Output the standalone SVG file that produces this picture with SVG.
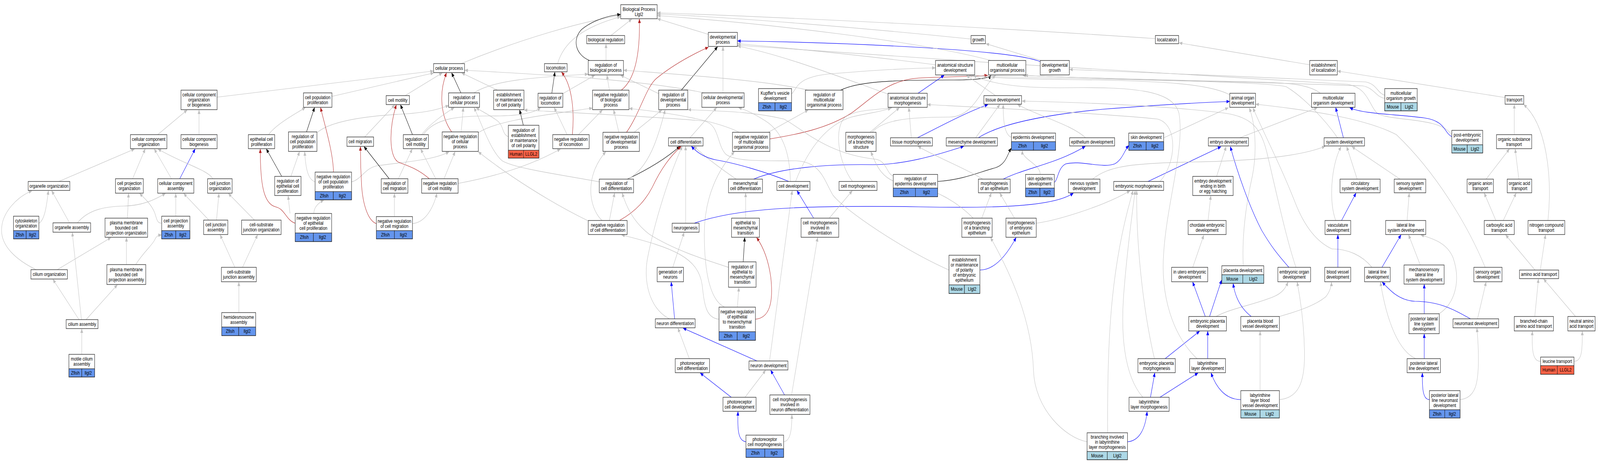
<svg xmlns="http://www.w3.org/2000/svg" width="5225" height="1189" viewBox="0 0 5225 1189" preserveAspectRatio="none">
<style>
svg{width:100vw;height:100vh;display:block}
.n rect{fill:#fff;stroke:#222;stroke-width:1.3}
.n rect.z{fill:#6495ed}
.n rect.m{fill:#add8e6}
.n rect.h{fill:#ff6347}
text{font-family:"Liberation Sans",Arial,sans-serif;font-size:13px;text-anchor:middle;fill:#000}
#edges path{fill:none;stroke-width:1.15}
#edges .g{stroke:#c0c0c0;marker-end:url(#ag)}
#edges .k{stroke:#000;marker-end:url(#ak)}
#edges .b{stroke:#0000ff;marker-end:url(#ab)}
#edges .r{stroke:#b22222;marker-end:url(#ar)}
</style>
<defs>
<marker id="ag" markerWidth="11" markerHeight="9" refX="10" refY="4.5" orient="auto" markerUnits="userSpaceOnUse"><path d="M0,0L11,4.5L0,9z" fill="#c0c0c0"/></marker>
<marker id="ak" markerWidth="11" markerHeight="9" refX="10" refY="4.5" orient="auto" markerUnits="userSpaceOnUse"><path d="M0,0L11,4.5L0,9z" fill="#000"/></marker>
<marker id="ab" markerWidth="11" markerHeight="9" refX="10" refY="4.5" orient="auto" markerUnits="userSpaceOnUse"><path d="M0,0L11,4.5L0,9z" fill="#0000ff"/></marker>
<marker id="ar" markerWidth="11" markerHeight="9" refX="10" refY="4.5" orient="auto" markerUnits="userSpaceOnUse"><path d="M0,0L11,4.5L0,9z" fill="#b22222"/></marker>
</defs>
<rect x="0" y="0" width="5225" height="1189" fill="#fff"/>
<g id="edges">
<path class="g" d="M709,249 L1415,182"/>
<path class="g" d="M515,345 L611,282"/>
<path class="g" d="M650,345 L650,282"/>
<path class="g" d="M192,465 L439,382"/>
<path class="g" d="M433,458 L474,382"/>
<path class="g" d="M560,458 L504,382"/>
<path class="b" d="M587,458 L637,382"/>
<path class="g" d="M695,458 C680,436 600,420 516,382"/>
<path class="g" d="M227,571 L169,489"/>
<path class="g" d="M127,572 C145,565 152,530 158,489"/>
<path class="g" d="M118,691 C50,665 5,630 5,590 C5,545 55,505 104,489"/>
<path class="g" d="M253,571 C290,535 350,529 405,528 C465,527 505,512 540,496"/>
<path class="g" d="M416,559 L420,496"/>
<path class="g" d="M528,572 C512,572 512,560 505,545 C495,525 475,510 456,496"/>
<path class="g" d="M574,554 L574,496"/>
<path class="g" d="M682,564 L600,496"/>
<path class="g" d="M707,564 L715,496"/>
<path class="g" d="M831,564 L746,496"/>
<path class="g" d="M187,691 L362,609"/>
<path class="g" d="M413,678 L413,609"/>
<path class="g" d="M443,678 C470,645 495,630 505,615 C510,606 515,603 527,602"/>
<path class="g" d="M767,685 L719,602"/>
<path class="g" d="M792,685 L841,602"/>
<path class="g" d="M258,819 L173,716"/>
<path class="g" d="M266,819 L236,596"/>
<path class="g" d="M281,819 L383,730"/>
<path class="g" d="M780,801 L780,723"/>
<path class="g" d="M267,908 L267,843"/>
<path class="g" d="M877,345 C900,320 960,293 997,276"/>
<path class="r" d="M964,572 C935,565 930,535 900,530 C860,522 850,470 850,382"/>
<path class="k" d="M920,452 L870,382"/>
<path class="g" d="M1506,163 C1700,100 1900,55 2026,40"/>
<path class="g" d="M1084,247 L1416,187"/>
<path class="g" d="M1323,245 L1444,187"/>
<path class="r" d="M1475,338 C1440,300 1432,240 1458,187"/>
<path class="k" d="M1505,238 L1475,187"/>
<path class="g" d="M1625,231 L1508,187"/>
<path class="g" d="M2300,238 C2100,205 1800,192 1518,180"/>
<path class="g" d="M1548,238 C1610,205 1750,198 1920,190"/>
<path class="k" d="M1001,338 L1027,276"/>
<path class="g" d="M1037,339 C1080,310 1200,297 1300,293 C1380,290 1430,282 1465,270"/>
<path class="r" d="M1089,441 C1088,390 1060,320 1047,276"/>
<path class="g" d="M1029,466 C1005,460 998,430 995,389"/>
<path class="g" d="M1148,466 C1180,460 1190,432 1230,425 C1320,415 1420,410 1466,389"/>
<path class="g" d="M950,452 L978,389"/>
<path class="g" d="M947,547 L941,502"/>
<path class="g" d="M1025,547 C1025,530 1040,520 1057,513"/>
<path class="g" d="M1191,351 L1289,269"/>
<path class="k" d="M1347,345 L1308,269"/>
<path class="r" d="M1402,458 C1360,430 1330,425 1300,415 C1270,400 1270,330 1294,269"/>
<path class="g" d="M1377,345 C1400,320 1450,292 1483,276"/>
<path class="g" d="M1382,345 C1420,302 1500,297 1600,297 C1680,298 1740,292 1765,276"/>
<path class="g" d="M1423,458 L1374,382"/>
<path class="g" d="M1450,458 L1486,389"/>
<path class="g" d="M1496,470 C1600,455 1720,430 1830,382"/>
<path class="g" d="M1506,338 L1513,276"/>
<path class="g" d="M1562,340 C1620,310 1750,298 1934,277"/>
<path class="k" d="M1271,458 L1189,376"/>
<path class="r" d="M1229,573 C1200,565 1185,520 1181,478 C1178,440 1177,410 1177,376"/>
<path class="g" d="M1301,458 L1346,382"/>
<path class="g" d="M1288,555 L1288,496"/>
<path class="g" d="M1347,573 C1390,570 1415,532 1427,496"/>
<path class="k" d="M1709,321 L1697,282"/>
<path class="g" d="M1660,350 C1640,345 1645,322 1625,310 C1600,295 1572,285 1555,276"/>
<path class="g" d="M1921,566 C1800,520 1660,450 1562,389"/>
<path class="g" d="M1957,466 C1850,450 1680,432 1640,412 C1600,385 1570,310 1548,276"/>
<path class="g" d="M1995,91 L2063,49"/>
<path class="g" d="M1821,163 C1840,110 1900,70 2026,43"/>
<path class="k" d="M1925,155 C1878,140 1868,100 1900,75 C1940,50 1990,40 2026,37"/>
<path class="r" d="M2029,231 C2080,200 2090,120 2088,49"/>
<path class="g" d="M1979,155 L1979,113"/>
<path class="g" d="M2313,88 L2147,48"/>
<path class="k" d="M2225,231 L2343,120"/>
<path class="r" d="M2046,339 C2090,290 2110,222 2145,200 C2200,165 2260,140 2313,121"/>
<path class="g" d="M2361,238 L2361,120"/>
<path class="b" d="M3397,158 C3300,125 2700,108 2409,105"/>
<path class="k" d="M1802,239 L1812,185"/>
<path class="r" d="M1869,345 C1876,290 1870,220 1834,185"/>
<path class="g" d="M1852,345 L1810,276"/>
<path class="g" d="M1889,345 L1967,282"/>
<path class="g" d="M1838,240 L1942,193"/>
<path class="g" d="M1990,231 L1982,193"/>
<path class="g" d="M2151,240 L2027,193"/>
<path class="g" d="M2021,339 L2004,282"/>
<path class="g" d="M2071,339 L2161,282"/>
<path class="g" d="M2414,339 C2340,310 2200,290 2055,278"/>
<path class="g" d="M2639,231 C2500,205 2200,190 2037,180"/>
<path class="g" d="M2253,353 L2340,276"/>
<path class="k" d="M2049,459 C2100,440 2170,410 2220,375"/>
<path class="g" d="M2051,459 C2120,430 2150,350 2172,282"/>
<path class="r" d="M2023,565 C2080,540 2110,510 2130,480 C2160,430 2190,400 2224,375"/>
<path class="g" d="M1990,565 L2007,495"/>
<path class="g" d="M1966,565 C1920,530 1910,450 1978,389"/>
<path class="g" d="M2239,572 L2239,375"/>
<path class="g" d="M2404,459 C2350,430 2300,400 2266,375"/>
<path class="b" d="M2576,465 C2500,440 2400,418 2340,410 C2300,404 2275,390 2258,375"/>
<path class="g" d="M2435,559 L2435,495"/>
<path class="g" d="M2197,685 L2234,596"/>
<path class="k" d="M2427,671 L2432,609"/>
<path class="r" d="M2467,818 C2510,815 2527,780 2517,710 C2508,660 2490,630 2471,609"/>
<path class="g" d="M2408,787 L2413,737"/>
<path class="g" d="M2348,818 C2305,815 2300,780 2293,730 C2280,660 2200,635 2030,602"/>
<path class="g" d="M2366,787 C2320,770 2300,700 2300,600 C2300,500 2350,430 2398,389"/>
<path class="g" d="M2379,685 C2300,665 2200,640 2120,600 C2070,570 2045,530 2032,495"/>
<path class="b" d="M2203,817 L2192,723"/>
<path class="g" d="M2186,817 C2120,790 2100,720 2115,660 C2140,560 2190,440 2228,375"/>
<path class="g" d="M2251,919 L2214,841"/>
<path class="b" d="M2472,925 L2231,841"/>
<path class="g" d="M2513,925 L2587,489"/>
<path class="b" d="M2388,1018 L2287,956"/>
<path class="g" d="M2433,1018 L2500,949"/>
<path class="b" d="M2562,1012 L2517,949"/>
<path class="g" d="M2585,1012 L2670,609"/>
<path class="b" d="M2436,1132 C2410,1130 2408,1100 2410,1055"/>
<path class="g" d="M2559,1132 C2582,1130 2586,1100 2586,1063"/>
<path class="g" d="M2586,240 C2605,225 2600,200 2700,190 C2850,180 2950,175 3054,174"/>
<path class="g" d="M2581,465 C2580,400 2560,340 2500,310 C2460,290 2430,280 2412,276"/>
<path class="b" d="M2461,459 C2550,430 2700,420 2850,422 C2950,422 3050,400 3147,375"/>
<path class="b" d="M2267,572 C2400,535 2600,525 3000,530 C3300,535 3450,525 3505,495"/>
<path class="g" d="M3171,100 C2800,70 2400,45 2147,36"/>
<path class="g" d="M3773,99 C3200,68 2500,42 2147,33"/>
<path class="g" d="M3236,155 C3000,105 2500,60 2147,40"/>
<path class="g" d="M3400,155 L3220,112"/>
<path class="g" d="M3055,166 C2800,140 2600,125 2409,112"/>
<path class="g" d="M2900,241 C2700,185 2550,140 2409,118"/>
<path class="k" d="M2745,231 C2800,210 2900,205 3100,205 C3200,205 3230,200 3236,193"/>
<path class="r" d="M2514,356 C2600,345 2700,330 2780,290 C2850,250 2900,205 3000,200 C3100,196 3190,196 3225,193"/>
<path class="g" d="M2509,339 L2639,282"/>
<path class="b" d="M2998,239 L3083,193"/>
<path class="g" d="M3251,245 L3156,193"/>
<path class="g" d="M2841,339 L2937,276"/>
<path class="g" d="M2848,339 C2880,310 2950,300 3100,300 C3180,300 3200,230 3251,193"/>
<path class="g" d="M2976,353 L2968,276"/>
<path class="b" d="M2996,353 C3080,320 3150,290 3226,268"/>
<path class="g" d="M3186,353 L3265,268"/>
<path class="b" d="M3195,353 C3260,320 3400,295 3600,280 C3800,268 3950,262 4015,260"/>
<path class="g" d="M3303,352 C3280,345 3276,310 3276,268"/>
<path class="g" d="M3545,353 C3500,320 3400,300 3323,268"/>
<path class="g" d="M3397,447 C3397,420 3340,410 3338,386"/>
<path class="k" d="M3062,465 C3150,460 3200,440 3250,430 C3285,422 3290,395 3302,380"/>
<path class="g" d="M2917,451 C2895,445 2895,412 2860,408 C2700,395 2620,330 2560,305 C2450,285 2350,285 2247,281"/>
<path class="g" d="M2784,465 C2740,420 2720,330 2760,300 C2800,280 2850,283 2913,276"/>
<path class="g" d="M2598,465 C2640,380 2700,320 2780,300 C2830,290 2870,288 2910,277"/>
<path class="g" d="M3209,459 C3150,430 3050,400 2998,375"/>
<path class="b" d="M3276,459 C3350,430 3450,420 3544,375"/>
<path class="g" d="M3178,559 C3130,520 3050,480 2950,470 C2880,465 2860,420 2844,389"/>
<path class="g" d="M3206,559 L3237,495"/>
<path class="g" d="M3313,559 L3265,495"/>
<path class="g" d="M3384,572 C3450,565 3600,530 3690,489"/>
<path class="b" d="M3200,692 C3250,692 3290,650 3318,609"/>
<path class="g" d="M3099,692 C2950,640 2760,540 2720,500 C2690,460 2680,415 2600,412 C2500,412 2400,415 2370,395 C2340,370 2350,320 2300,310 C2150,300 1900,290 1712,282"/>
<path class="b" d="M3444,467 C3455,460 3455,430 3480,420 C3530,410 3600,432 3640,420 C3665,410 3672,385 3686,373"/>
<path class="b" d="M2657,559 L2603,489"/>
<path class="g" d="M2708,559 L2783,489"/>
<path class="g" d="M4277,166 L3851,110"/>
<path class="g" d="M4915,250 L4368,182"/>
<path class="g" d="M4522,244 C4500,240 4495,215 4460,210 C4200,200 3700,185 3493,178"/>
<path class="g" d="M4522,252 C4495,250 4488,225 4450,220 C4100,210 3600,203 3340,193"/>
<path class="g" d="M4312,239 C4280,220 4230,212 4100,210 C3800,205 3450,198 3347,193"/>
<path class="g" d="M4016,243 C3950,215 3800,207 3500,204 C3300,202 3200,197 3165,193"/>
<path class="g" d="M4368,353 C4330,310 4260,250 4200,222 C4100,205 3400,203 3172,193"/>
<path class="g" d="M4741,345 C4700,300 4560,312 4500,292 C4470,272 4470,225 4400,216 C4000,200 3000,150 2409,116"/>
<path class="b" d="M4741,350 C4715,340 4722,310 4650,302 C4550,292 4450,292 4408,276"/>
<path class="b" d="M4387,353 L4362,276"/>
<path class="g" d="M4049,353 L4302,276"/>
<path class="g" d="M3801,353 L4011,276"/>
<path class="g" d="M4060,681 C4055,600 4070,520 4090,450 C4105,390 4100,320 4080,277"/>
<path class="g" d="M4232,685 C4200,610 4170,500 4140,400 C4120,330 4090,300 4000,290 C3800,270 3500,262 3338,259"/>
<path class="g" d="M4480,685 C4450,655 4400,637 4350,638 C4300,620 4260,580 4230,520 C4180,420 4120,330 4092,277"/>
<path class="g" d="M4850,685 C4800,590 4700,450 4560,345 C4450,300 4250,280 4101,267"/>
<path class="b" d="M3749,465 L3987,376"/>
<path class="g" d="M3788,465 C3840,420 3850,320 3780,305 C3600,290 3200,275 3029,268"/>
<path class="g" d="M3973,452 L4004,376"/>
<path class="g" d="M3945,565 L3954,502"/>
<path class="g" d="M3895,685 L3931,603"/>
<path class="b" d="M4209,685 C4170,650 4150,630 4120,590 C4080,530 4040,440 4018,376"/>
<path class="b" d="M3936,811 L3895,723"/>
<path class="b" d="M3950,811 L3989,718"/>
<path class="g" d="M3971,811 C4020,790 4100,780 4160,760 C4190,750 4200,735 4206,723"/>
<path class="b" d="M4086,811 C4060,795 4035,770 4027,727"/>
<path class="g" d="M4178,811 C4250,795 4300,780 4330,760 C4345,745 4348,730 4348,723"/>
<path class="b" d="M3805,919 L3917,849"/>
<path class="g" d="M3770,919 C3740,820 3710,650 3712,489"/>
<path class="b" d="M3944,919 L3944,849"/>
<path class="g" d="M3909,919 C3830,860 3790,760 3800,650 C3810,520 3870,380 3850,290 C3830,230 3700,222 3460,225 C3300,225 3220,210 3179,193"/>
<path class="b" d="M3757,1018 L3771,956"/>
<path class="b" d="M3788,1018 L3912,956"/>
<path class="g" d="M3732,1018 C3668,960 3660,850 3670,750 C3680,650 3695,560 3707,489"/>
<path class="b" d="M4052,1024 C4000,1024 3970,990 3955,956"/>
<path class="g" d="M4115,1001 L4115,849"/>
<path class="g" d="M4178,1024 C4240,1020 4262,980 4260,900 C4258,820 4245,760 4236,723"/>
<path class="b" d="M3682,1132 C3720,1130 3740,1100 3746,1055"/>
<path class="g" d="M3617,1109 C3617,900 3620,700 3700,489"/>
<path class="g" d="M3550,1132 C3480,1122 3380,1050 3375,950 C3370,820 3300,700 3235,609"/>
<path class="g" d="M3568,459 C3620,425 3700,418 3900,415 C4100,412 4250,400 4327,375"/>
<path class="g" d="M4432,459 L4398,376"/>
<path class="g" d="M4572,459 L4415,376"/>
<path class="g" d="M4362,565 C4340,520 4345,430 4379,376"/>
<path class="b" d="M4381,565 L4428,495"/>
<path class="b" d="M4369,685 L4369,602"/>
<path class="g" d="M4595,565 L4602,495"/>
<path class="b" d="M4513,685 L4575,602"/>
<path class="g" d="M4638,679 L4600,602"/>
<path class="b" d="M4651,804 L4651,729"/>
<path class="g" d="M4699,804 C4750,780 4772,720 4745,660 C4725,622 4680,612 4640,602"/>
<path class="b" d="M4802,817 C4740,790 4700,773 4620,772 C4570,770 4540,745 4514,723"/>
<path class="g" d="M4825,817 L4853,723"/>
<path class="b" d="M4651,919 L4651,856"/>
<path class="g" d="M4623,919 C4570,900 4530,830 4508,723"/>
<path class="b" d="M4668,1024 C4648,1024 4644,1000 4645,956"/>
<path class="g" d="M4768,1024 C4820,1020 4828,980 4828,920 C4828,880 4825,860 4823,841"/>
<path class="g" d="M4945,345 L4945,268"/>
<path class="g" d="M4853,459 L4929,382"/>
<path class="g" d="M4960,459 L4948,382"/>
<path class="g" d="M4885,565 L4847,495"/>
<path class="g" d="M4909,565 L4951,495"/>
<path class="g" d="M5055,565 C5070,450 5050,320 4976,268"/>
<path class="g" d="M5013,692 L4917,602"/>
<path class="g" d="M5030,692 L5047,602"/>
<path class="g" d="M5012,811 L5024,715"/>
<path class="g" d="M5145,811 L5041,715"/>
<path class="g" d="M5031,926 C5006,926 5002,900 5004,849"/>
<path class="g" d="M5140,926 C5165,926 5168,900 5167,849"/>
</g>
<g id="n_ccob" class="n"><rect x="591" y="231" width="118" height="50"/><text x="650" y="247.5">cellular component<tspan x="650" dy="13">organization</tspan><tspan x="650" dy="13">or biogenesis</tspan></text></g>
<g id="n_cco" class="n"><rect x="426" y="345" width="119" height="36"/><text x="485.5" y="361">cellular component<tspan x="485.5" dy="13">organization</tspan></text></g>
<g id="n_ccb" class="n"><rect x="591" y="345" width="118" height="36"/><text x="650" y="361">cellular component<tspan x="650" dy="13">biogenesis</tspan></text></g>
<g id="n_epcp" class="n"><rect x="811" y="345" width="86" height="36"/><text x="854" y="361">epithelial cell<tspan x="854" dy="13">proliferation</tspan></text></g>
<g id="n_oo" class="n"><rect x="92" y="465" width="136" height="23"/><text x="160" y="481">organelle organization</text></g>
<g id="n_cpo" class="n"><rect x="377" y="458" width="91" height="37"/><text x="422.5" y="474.5">cell projection<tspan x="422.5" dy="13">organization</tspan></text></g>
<g id="n_cca" class="n"><rect x="515" y="458" width="118" height="37"/><text x="574" y="474.5">cellular component<tspan x="574" dy="13">assembly</tspan></text></g>
<g id="n_cjo" class="n"><rect x="678" y="458" width="80" height="37"/><text x="718" y="474.5">cell junction<tspan x="718" dy="13">organization</tspan></text></g>
<g id="n_cyto" class="n"><rect x="44" y="554" width="83" height="58"/><text x="85.5" y="570.5">cytoskeleton<tspan x="85.5" dy="13">organization</tspan></text><rect class="z" x="44" y="591" width="41.5" height="21"/><rect class="z" x="85.5" y="591" width="41.5" height="21"/><text x="64.75" y="606">Zfish</text><text x="106.25" y="606">llgl2</text></g>
<g id="n_oa" class="n"><rect x="173" y="571" width="123" height="24"/><text x="234.5" y="587.5">organelle assembly</text></g>
<g id="n_pmbcpo" class="n"><rect x="343" y="559" width="139" height="49"/><text x="412.5" y="575">plasma membrane<tspan x="412.5" dy="13">bounded cell</tspan><tspan x="412.5" dy="13">projection organization</tspan></text></g>
<g id="n_cpa" class="n"><rect x="528" y="554" width="92" height="58"/><text x="574" y="570.5">cell projection<tspan x="574" dy="13">assembly</tspan></text><rect class="z" x="528" y="591" width="46" height="21"/><rect class="z" x="574" y="591" width="46" height="21"/><text x="551" y="606">Zfish</text><text x="597" y="606">llgl2</text></g>
<g id="n_cja" class="n"><rect x="665" y="564" width="79" height="37"/><text x="704.5" y="580.5">cell junction<tspan x="704.5" dy="13">assembly</tspan></text></g>
<g id="n_csjo" class="n"><rect x="789" y="564" width="129" height="37"/><text x="853.5" y="580.5">cell-substrate<tspan x="853.5" dy="13">junction organization</tspan></text></g>
<g id="n_cilo" class="n"><rect x="101" y="691" width="119" height="24"/><text x="160.5" y="707.5">cilium organization</text></g>
<g id="n_pmbcpa" class="n"><rect x="349" y="678" width="127" height="51"/><text x="412.5" y="695">plasma membrane<tspan x="412.5" dy="13">bounded cell</tspan><tspan x="412.5" dy="13">projection assembly</tspan></text></g>
<g id="n_csja" class="n"><rect x="723" y="685" width="114" height="37"/><text x="780" y="701.5">cell-substrate<tspan x="780" dy="13">junction assembly</tspan></text></g>
<g id="n_cila" class="n"><rect x="216" y="819" width="104" height="23"/><text x="268" y="835">cilium assembly</text></g>
<g id="n_hemi" class="n"><rect x="724" y="801" width="111" height="59"/><text x="779.5" y="817.5">hemidesmosome<tspan x="779.5" dy="13">assembly</tspan></text><rect class="z" x="724" y="838" width="55.5" height="22"/><rect class="z" x="779.5" y="838" width="55.5" height="22"/><text x="751.75" y="853.5">Zfish</text><text x="807.25" y="853.5">llgl2</text></g>
<g id="n_mcila" class="n"><rect x="225" y="908" width="84" height="58"/><text x="267" y="924.5">motile cilium<tspan x="267" dy="13">assembly</tspan></text><rect class="z" x="225" y="945" width="42" height="21"/><rect class="z" x="267" y="945" width="42" height="21"/><text x="246" y="960">Zfish</text><text x="288" y="960">llgl2</text></g>
<g id="n_cp" class="n"><rect x="1416" y="163" width="101" height="23"/><text x="1466.5" y="179">cellular process</text></g>
<g id="n_cpp" class="n"><rect x="991" y="238" width="93" height="37"/><text x="1037.5" y="254.5">cell population<tspan x="1037.5" dy="13">proliferation</tspan></text></g>
<g id="n_cmot" class="n"><rect x="1261" y="245" width="76" height="23"/><text x="1299" y="261">cell motility</text></g>
<g id="n_rcp" class="n"><rect x="1465" y="238" width="101" height="37"/><text x="1515.5" y="254.5">regulation of<tspan x="1515.5" dy="13">cellular process</tspan></text></g>
<g id="n_emcp" class="n"><rect x="1612" y="231" width="99" height="50"/><text x="1661.5" y="247.5">establishment<tspan x="1661.5" dy="13">or maintenance</tspan><tspan x="1661.5" dy="13">of cell polarity</tspan></text></g>
<g id="n_rcpp" class="n"><rect x="942" y="338" width="93" height="50"/><text x="988.5" y="354.5">regulation of<tspan x="988.5" dy="13">cell population</tspan><tspan x="988.5" dy="13">proliferation</tspan></text></g>
<g id="n_cmig" class="n"><rect x="1133" y="351" width="87" height="24"/><text x="1176.5" y="367.5">cell migration</text></g>
<g id="n_rcmot" class="n"><rect x="1317" y="345" width="82" height="36"/><text x="1358" y="361">regulation of<tspan x="1358" dy="13">cell motility</tspan></text></g>
<g id="n_nrcp" class="n"><rect x="1444" y="338" width="118" height="50"/><text x="1503" y="354.5">negative regulation<tspan x="1503" dy="13">of cellular</tspan><tspan x="1503" dy="13">process</tspan></text></g>
<g id="n_remcp" class="n"><rect x="1660" y="321" width="100" height="84"/><text x="1710" y="338">regulation of<tspan x="1710" dy="13">establishment</tspan><tspan x="1710" dy="13">or maintenance</tspan><tspan x="1710" dy="13">of cell polarity</tspan></text><rect class="h" x="1660" y="385" width="50" height="20"/><rect class="h" x="1710" y="385" width="50" height="20"/><text x="1685" y="399.5">Human</text><text x="1735" y="399.5">LLGL2</text></g>
<g id="n_recp" class="n"><rect x="897" y="452" width="86" height="49"/><text x="940" y="468">regulation of<tspan x="940" dy="13">epithelial cell</tspan><tspan x="940" dy="13">proliferation</tspan></text></g>
<g id="n_nrcpp" class="n"><rect x="1029" y="441" width="119" height="71"/><text x="1088.5" y="457.5">negative regulation<tspan x="1088.5" dy="13">of cell population</tspan><tspan x="1088.5" dy="13">proliferation</tspan></text><rect class="z" x="1029" y="491" width="59.5" height="21"/><rect class="z" x="1088.5" y="491" width="59.5" height="21"/><text x="1058.75" y="506">Zfish</text><text x="1118.25" y="506">llgl2</text></g>
<g id="n_rcmig" class="n"><rect x="1245" y="458" width="87" height="37"/><text x="1288.5" y="474.5">regulation of<tspan x="1288.5" dy="13">cell migration</tspan></text></g>
<g id="n_nrcmot" class="n"><rect x="1377" y="458" width="119" height="37"/><text x="1436.5" y="474.5">negative regulation<tspan x="1436.5" dy="13">of cell motility</tspan></text></g>
<g id="n_nrecp" class="n"><rect x="964" y="547" width="119" height="72"/><text x="1023.5" y="563.5">negative regulation<tspan x="1023.5" dy="13">of epithelial</tspan><tspan x="1023.5" dy="13">cell proliferation</tspan></text><rect class="z" x="964" y="597" width="59.5" height="22"/><rect class="z" x="1023.5" y="597" width="59.5" height="22"/><text x="993.75" y="612.5">Zfish</text><text x="1053.25" y="612.5">llgl2</text></g>
<g id="n_nrcmig" class="n"><rect x="1229" y="555" width="118" height="57"/><text x="1288" y="571">negative regulation<tspan x="1288" dy="13">of cell migration</tspan></text><rect class="z" x="1229" y="591" width="59" height="21"/><rect class="z" x="1288" y="591" width="59" height="21"/><text x="1258.5" y="606">Zfish</text><text x="1317.5" y="606">llgl2</text></g>
<g id="n_bp" class="n"><rect x="2027" y="12" width="119" height="36"/><text x="2086.5" y="28">Biological Process<tspan x="2086.5" dy="13">Llgl2</tspan></text></g>
<g id="n_breg" class="n"><rect x="1916" y="91" width="124" height="21"/><text x="1978" y="106">biological regulation</text></g>
<g id="n_dp" class="n"><rect x="2313" y="83" width="95" height="36"/><text x="2360.5" y="99">developmental<tspan x="2360.5" dy="13">process</tspan></text></g>
<g id="n_loco" class="n"><rect x="1778" y="163" width="74" height="21"/><text x="1815" y="178">locomotion</text></g>
<g id="n_rbp" class="n"><rect x="1921" y="155" width="115" height="37"/><text x="1978.5" y="171.5">regulation of<tspan x="1978.5" dy="13">biological process</tspan></text></g>
<g id="n_rloco" class="n"><rect x="1757" y="239" width="81" height="36"/><text x="1797.5" y="255">regulation of<tspan x="1797.5" dy="13">locomotion</tspan></text></g>
<g id="n_nrbp" class="n"><rect x="1935" y="231" width="119" height="50"/><text x="1994.5" y="247.5">negative regulation<tspan x="1994.5" dy="13">of biological</tspan><tspan x="1994.5" dy="13">process</tspan></text></g>
<g id="n_rdp" class="n"><rect x="2151" y="231" width="95" height="50"/><text x="2198.5" y="247.5">regulation of<tspan x="2198.5" dy="13">developmental</tspan><tspan x="2198.5" dy="13">process</tspan></text></g>
<g id="n_cdp" class="n"><rect x="2292" y="238" width="138" height="37"/><text x="2361" y="254.5">cellular developmental<tspan x="2361" dy="13">process</tspan></text></g>
<g id="n_kvd" class="n"><rect x="2477" y="227" width="108" height="57"/><text x="2531" y="243">Kupffer's vesicle<tspan x="2531" dy="13">development</tspan></text><rect class="z" x="2477" y="263" width="54" height="21"/><rect class="z" x="2531" y="263" width="54" height="21"/><text x="2504" y="278">Zfish</text><text x="2558" y="278">llgl2</text></g>
<g id="n_nrloco" class="n"><rect x="1805" y="345" width="119" height="36"/><text x="1864.5" y="361">negative regulation<tspan x="1864.5" dy="13">of locomotion</tspan></text></g>
<g id="n_nrdp" class="n"><rect x="1969" y="339" width="119" height="49"/><text x="2028.5" y="355">negative regulation<tspan x="2028.5" dy="13">of developmental</tspan><tspan x="2028.5" dy="13">process</tspan></text></g>
<g id="n_cd" class="n"><rect x="2183" y="353" width="113" height="21"/><text x="2239.5" y="368">cell differentiation</text></g>
<g id="n_nrmop" class="n"><rect x="2392" y="339" width="122" height="49"/><text x="2453" y="355">negative regulation<tspan x="2453" dy="13">of multicellular</tspan><tspan x="2453" dy="13">organismal process</tspan></text></g>
<g id="n_rcd" class="n"><rect x="1957" y="459" width="112" height="35"/><text x="2013" y="474.5">regulation of<tspan x="2013" dy="13">cell differentiation</tspan></text></g>
<g id="n_mcd" class="n"><rect x="2379" y="459" width="111" height="35"/><text x="2434.5" y="474.5">mesenchymal<tspan x="2434.5" dy="13">cell differentiation</tspan></text></g>
<g id="n_cdev" class="n"><rect x="2537" y="465" width="108" height="23"/><text x="2591" y="481">cell development</text></g>
<g id="n_nrcd" class="n"><rect x="1921" y="565" width="127" height="36"/><text x="1984.5" y="581">negative regulation<tspan x="1984.5" dy="13">of cell differentiation</tspan></text></g>
<g id="n_neurog" class="n"><rect x="2195" y="572" width="88" height="23"/><text x="2239" y="588">neurogenesis</text></g>
<g id="n_emt" class="n"><rect x="2389" y="559" width="91" height="49"/><text x="2434.5" y="575">epithelial to<tspan x="2434.5" dy="13">mesenchymal</tspan><tspan x="2434.5" dy="13">transition</tspan></text></g>
<g id="n_gon" class="n"><rect x="2146" y="685" width="86" height="37"/><text x="2189" y="701.5">generation of<tspan x="2189" dy="13">neurons</tspan></text></g>
<g id="n_remt" class="n"><rect x="2379" y="671" width="90" height="65"/><text x="2424" y="688.5">regulation of<tspan x="2424" dy="13">epithelial to</tspan><tspan x="2424" dy="13">mesenchymal</tspan><tspan x="2424" dy="13">transition</tspan></text></g>
<g id="n_nd" class="n"><rect x="2140" y="817" width="130" height="23"/><text x="2205" y="833">neuron differentiation</text></g>
<g id="n_nremt" class="n"><rect x="2348" y="787" width="119" height="85"/><text x="2407.5" y="803.5">negative regulation<tspan x="2407.5" dy="13">of epithelial</tspan><tspan x="2407.5" dy="13">to mesenchymal</tspan><tspan x="2407.5" dy="13">transition</tspan></text><rect class="z" x="2348" y="850" width="59.5" height="22"/><rect class="z" x="2407.5" y="850" width="59.5" height="22"/><text x="2377.75" y="865.5">Zfish</text><text x="2437.25" y="865.5">llgl2</text></g>
<g id="n_pcd" class="n"><rect x="2205" y="919" width="112" height="36"/><text x="2261" y="935">photoreceptor<tspan x="2261" dy="13">cell differentiation</tspan></text></g>
<g id="n_ndev" class="n"><rect x="2446" y="925" width="127" height="23"/><text x="2509.5" y="941">neuron development</text></g>
<g id="n_pcdev" class="n"><rect x="2361" y="1018" width="108" height="36"/><text x="2415" y="1034">photoreceptor<tspan x="2415" dy="13">cell development</tspan></text></g>
<g id="n_cmind" class="n"><rect x="2514" y="1012" width="131" height="50"/><text x="2579.5" y="1028.5">cell morphogenesis<tspan x="2579.5" dy="13">involved in</tspan><tspan x="2579.5" dy="13">neuron differentiation</tspan></text></g>
<g id="n_pcm" class="n"><rect x="2436" y="1115" width="123" height="57"/><text x="2497.5" y="1130.5">photoreceptor<tspan x="2497.5" dy="13">cell morphogenesis</tspan></text><rect class="z" x="2436" y="1150" width="61.5" height="22"/><rect class="z" x="2497.5" y="1150" width="61.5" height="22"/><text x="2466.75" y="1165.5">Zfish</text><text x="2528.25" y="1165.5">llgl2</text></g>
<g id="n_growth" class="n"><rect x="3171" y="91" width="47" height="21"/><text x="3194.5" y="106">growth</text></g>
<g id="n_asd" class="n"><rect x="3055" y="155" width="128" height="37"/><text x="3119" y="171.5">anatomical structure<tspan x="3119" dy="13">development</tspan></text></g>
<g id="n_mop" class="n"><rect x="3228" y="155" width="122" height="37"/><text x="3289" y="171.5">multicellular<tspan x="3289" dy="13">organismal process</tspan></text></g>
<g id="n_dg" class="n"><rect x="3397" y="155" width="95" height="37"/><text x="3444.5" y="171.5">developmental<tspan x="3444.5" dy="13">growth</tspan></text></g>
<g id="n_rmop" class="n"><rect x="2630" y="231" width="123" height="50"/><text x="2691.5" y="247.5">regulation of<tspan x="2691.5" dy="13">multicellular</tspan><tspan x="2691.5" dy="13">organismal process</tspan></text></g>
<g id="n_asm" class="n"><rect x="2900" y="239" width="128" height="36"/><text x="2964" y="255">anatomical structure<tspan x="2964" dy="13">morphogenesis</tspan></text></g>
<g id="n_td" class="n"><rect x="3213" y="245" width="123" height="22"/><text x="3274.5" y="260.5">tissue development</text></g>
<g id="n_mbs" class="n"><rect x="2762" y="339" width="99" height="49"/><text x="2811.5" y="355">morphogenesis<tspan x="2811.5" dy="13">of a branching</tspan><tspan x="2811.5" dy="13">structure</tspan></text></g>
<g id="n_tm" class="n"><rect x="2908" y="353" width="137" height="21"/><text x="2976.5" y="368">tissue morphogenesis</text></g>
<g id="n_mesd" class="n"><rect x="3090" y="353" width="167" height="21"/><text x="3173.5" y="368">mesenchyme development</text></g>
<g id="n_epid" class="n"><rect x="3303" y="341" width="144" height="44"/><text x="3375" y="356.5">epidermis development</text><rect class="z" x="3303" y="363" width="72" height="22"/><rect class="z" x="3375" y="363" width="72" height="22"/><text x="3339" y="378.5">Zfish</text><text x="3411" y="378.5">llgl2</text></g>
<g id="n_cmorph" class="n"><rect x="2740" y="465" width="124" height="23"/><text x="2802" y="481">cell morphogenesis</text></g>
<g id="n_red" class="n"><rect x="2917" y="447" width="145" height="57"/><text x="2989.5" y="462.5">regulation of<tspan x="2989.5" dy="13">epidermis development</tspan></text><rect class="z" x="2917" y="482" width="72.5" height="22"/><rect class="z" x="2989.5" y="482" width="72.5" height="22"/><text x="2953.25" y="497.5">Zfish</text><text x="3025.75" y="497.5">llgl2</text></g>
<g id="n_moe" class="n"><rect x="3195" y="459" width="104" height="35"/><text x="3247" y="474.5">morphogenesis<tspan x="3247" dy="13">of an epithelium</tspan></text></g>
<g id="n_sepid" class="n"><rect x="3349" y="447" width="94" height="57"/><text x="3396" y="462.5">skin epidermis<tspan x="3396" dy="13">development</tspan></text><rect class="z" x="3349" y="482" width="47" height="22"/><rect class="z" x="3396" y="482" width="47" height="22"/><text x="3372.5" y="497.5">Zfish</text><text x="3419.5" y="497.5">llgl2</text></g>
<g id="n_cmid" class="n"><rect x="2616" y="559" width="123" height="49"/><text x="2677.5" y="575">cell morphogenesis<tspan x="2677.5" dy="13">involved in</tspan><tspan x="2677.5" dy="13">differentiation</tspan></text></g>
<g id="n_mbe" class="n"><rect x="3141" y="559" width="99" height="49"/><text x="3190.5" y="575">morphogenesis<tspan x="3190.5" dy="13">of a branching</tspan><tspan x="3190.5" dy="13">epithelium</tspan></text></g>
<g id="n_mee" class="n"><rect x="3285" y="559" width="99" height="49"/><text x="3334.5" y="575">morphogenesis<tspan x="3334.5" dy="13">of embryonic</tspan><tspan x="3334.5" dy="13">epithelium</tspan></text></g>
<g id="n_empee" class="n"><rect x="3099" y="654" width="101" height="98"/><text x="3149.5" y="670.5">establishment<tspan x="3149.5" dy="13">or maintenance</tspan><tspan x="3149.5" dy="13">of polarity</tspan><tspan x="3149.5" dy="13">of embryonic</tspan><tspan x="3149.5" dy="13">epithelium</tspan></text><rect class="m" x="3099" y="730" width="50.5" height="22"/><rect class="m" x="3149.5" y="730" width="50.5" height="22"/><text x="3124.25" y="745.5">Mouse</text><text x="3174.75" y="745.5">Llgl2</text></g>
<g id="n_loc" class="n"><rect x="3773" y="91" width="76" height="21"/><text x="3811" y="106">localization</text></g>
<g id="n_eol" class="n"><rect x="4277" y="155" width="90" height="37"/><text x="4322" y="171.5">establishment<tspan x="4322" dy="13">of localization</tspan></text></g>
<g id="n_aod" class="n"><rect x="4016" y="239" width="84" height="36"/><text x="4058" y="255">animal organ<tspan x="4058" dy="13">development</tspan></text></g>
<g id="n_mod" class="n"><rect x="4283" y="239" width="142" height="36"/><text x="4354" y="255">multicellular<tspan x="4354" dy="13">organism development</tspan></text></g>
<g id="n_epd" class="n"><rect x="3493" y="353" width="147" height="21"/><text x="3566.5" y="368">epithelium development</text></g>
<g id="n_skd" class="n"><rect x="3686" y="341" width="114" height="44"/><text x="3743" y="356.5">skin development</text><rect class="z" x="3686" y="363" width="57" height="22"/><rect class="z" x="3743" y="363" width="57" height="22"/><text x="3714.5" y="378.5">Zfish</text><text x="3771.5" y="378.5">llgl2</text></g>
<g id="n_ed" class="n"><rect x="3946" y="353" width="131" height="21"/><text x="4011.5" y="368">embryo development</text></g>
<g id="n_sd" class="n"><rect x="4324" y="353" width="132" height="21"/><text x="4390" y="368">system development</text></g>
<g id="n_nsd" class="n"><rect x="3489" y="459" width="103" height="35"/><text x="3540.5" y="474.5">nervous system<tspan x="3540.5" dy="13">development</tspan></text></g>
<g id="n_em" class="n"><rect x="3637" y="465" width="163" height="23"/><text x="3718.5" y="481">embryonic morphogenesis</text></g>
<g id="n_edeb" class="n"><rect x="3895" y="452" width="132" height="49"/><text x="3961" y="468">embryo development<tspan x="3961" dy="13">ending in birth</tspan><tspan x="3961" dy="13">or egg hatching</tspan></text></g>
<g id="n_ced" class="n"><rect x="3880" y="565" width="124" height="36"/><text x="3942" y="581">chordate embryonic<tspan x="3942" dy="13">development</tspan></text></g>
<g id="n_iued" class="n"><rect x="3826" y="685" width="118" height="37"/><text x="3885" y="701.5">in utero embryonic<tspan x="3885" dy="13">development</tspan></text></g>
<g id="n_pld" class="n"><rect x="3990" y="681" width="137" height="45"/><text x="4058.5" y="697">placenta development</text><rect class="m" x="3990" y="704" width="68.5" height="22"/><rect class="m" x="4058.5" y="704" width="68.5" height="22"/><text x="4024.25" y="719.5">Mouse</text><text x="4092.75" y="719.5">Llgl2</text></g>
<g id="n_eod" class="n"><rect x="4173" y="685" width="107" height="37"/><text x="4226.5" y="701.5">embryonic organ<tspan x="4226.5" dy="13">development</tspan></text></g>
<g id="n_epld" class="n"><rect x="3882" y="811" width="123" height="37"/><text x="3943.5" y="827.5">embryonic placenta<tspan x="3943.5" dy="13">development</tspan></text></g>
<g id="n_pbvd" class="n"><rect x="4052" y="811" width="126" height="37"/><text x="4115" y="827.5">placenta blood<tspan x="4115" dy="13">vessel development</tspan></text></g>
<g id="n_epm" class="n"><rect x="3716" y="919" width="122" height="36"/><text x="3777" y="935">embryonic placenta<tspan x="3777" dy="13">morphogenesis</tspan></text></g>
<g id="n_lld" class="n"><rect x="3885" y="919" width="117" height="36"/><text x="3943.5" y="935">labyrinthine<tspan x="3943.5" dy="13">layer development</tspan></text></g>
<g id="n_llm" class="n"><rect x="3687" y="1018" width="131" height="36"/><text x="3752.5" y="1034">labyrinthine<tspan x="3752.5" dy="13">layer morphogenesis</tspan></text></g>
<g id="n_llbvd" class="n"><rect x="4052" y="1001" width="126" height="70"/><text x="4115" y="1017">labyrinthine<tspan x="4115" dy="13">layer blood</tspan><tspan x="4115" dy="13">vessel development</tspan></text><rect class="m" x="4052" y="1050" width="63" height="21"/><rect class="m" x="4115" y="1050" width="63" height="21"/><text x="4083.5" y="1065">Mouse</text><text x="4146.5" y="1065">Llgl2</text></g>
<g id="n_billm" class="n"><rect x="3550" y="1109" width="132" height="69"/><text x="3616" y="1124.5">branching involved<tspan x="3616" dy="13">in labyrinthine</tspan><tspan x="3616" dy="13">layer morphogenesis</tspan></text><rect class="m" x="3550" y="1157" width="66" height="21"/><rect class="m" x="3616" y="1157" width="66" height="21"/><text x="3583" y="1172">Mouse</text><text x="3649" y="1172">Llgl2</text></g>
<g id="n_mog" class="n"><rect x="4522" y="227" width="106" height="57"/><text x="4575" y="243">multicellular<tspan x="4575" dy="13">organism growth</tspan></text><rect class="m" x="4522" y="263" width="53" height="21"/><rect class="m" x="4575" y="263" width="53" height="21"/><text x="4548.5" y="278">Mouse</text><text x="4601.5" y="278">Llgl2</text></g>
<g id="n_trans" class="n"><rect x="4915" y="245" width="61" height="22"/><text x="4945.5" y="260.5">transport</text></g>
<g id="n_ped" class="n"><rect x="4741" y="334" width="101" height="58"/><text x="4791.5" y="350.5">post-embryonic<tspan x="4791.5" dy="13">development</tspan></text><rect class="m" x="4741" y="371" width="50.5" height="21"/><rect class="m" x="4791.5" y="371" width="50.5" height="21"/><text x="4766.25" y="386">Mouse</text><text x="4816.75" y="386">Llgl2</text></g>
<g id="n_ost" class="n"><rect x="4887" y="345" width="115" height="36"/><text x="4944.5" y="361">organic substance<tspan x="4944.5" dy="13">transport</tspan></text></g>
<g id="n_csd" class="n"><rect x="4376" y="459" width="131" height="35"/><text x="4441.5" y="474.5">circulatory<tspan x="4441.5" dy="13">system development</tspan></text></g>
<g id="n_ssd" class="n"><rect x="4553" y="459" width="103" height="35"/><text x="4604.5" y="474.5">sensory system<tspan x="4604.5" dy="13">development</tspan></text></g>
<g id="n_oant" class="n"><rect x="4791" y="459" width="86" height="35"/><text x="4834" y="474.5">organic anion<tspan x="4834" dy="13">transport</tspan></text></g>
<g id="n_oact" class="n"><rect x="4922" y="459" width="80" height="35"/><text x="4962" y="474.5">organic acid<tspan x="4962" dy="13">transport</tspan></text></g>
<g id="n_vd" class="n"><rect x="4327" y="565" width="84" height="36"/><text x="4369" y="581">vasculature<tspan x="4369" dy="13">development</tspan></text></g>
<g id="n_llsd" class="n"><rect x="4525" y="565" width="131" height="36"/><text x="4590.5" y="581">lateral line<tspan x="4590.5" dy="13">system development</tspan></text></g>
<g id="n_cat" class="n"><rect x="4847" y="565" width="98" height="36"/><text x="4896" y="581">carboxylic acid<tspan x="4896" dy="13">transport</tspan></text></g>
<g id="n_nct" class="n"><rect x="4990" y="565" width="120" height="36"/><text x="5050" y="581">nitrogen compound<tspan x="5050" dy="13">transport</tspan></text></g>
<g id="n_bvd" class="n"><rect x="4326" y="685" width="85" height="37"/><text x="4368.5" y="701.5">blood vessel<tspan x="4368.5" dy="13">development</tspan></text></g>
<g id="n_lld2" class="n"><rect x="4456" y="685" width="84" height="37"/><text x="4498" y="701.5">lateral line<tspan x="4498" dy="13">development</tspan></text></g>
<g id="n_mllsd" class="n"><rect x="4585" y="679" width="131" height="49"/><text x="4650.5" y="695">mechanosensory<tspan x="4650.5" dy="13">lateral line</tspan><tspan x="4650.5" dy="13">system development</tspan></text></g>
<g id="n_sod" class="n"><rect x="4813" y="685" width="92" height="37"/><text x="4859" y="701.5">sensory organ<tspan x="4859" dy="13">development</tspan></text></g>
<g id="n_aat" class="n"><rect x="4962" y="692" width="128" height="22"/><text x="5026" y="707.5">amino acid transport</text></g>
<g id="n_pllsd" class="n"><rect x="4601" y="804" width="99" height="51"/><text x="4650.5" y="821">posterior lateral<tspan x="4650.5" dy="13">line system</tspan><tspan x="4650.5" dy="13">development</tspan></text></g>
<g id="n_nmd" class="n"><rect x="4745" y="817" width="149" height="23"/><text x="4819.5" y="833">neuromast development</text></g>
<g id="n_bcaat" class="n"><rect x="4945" y="811" width="128" height="37"/><text x="5009" y="827.5">branched-chain<tspan x="5009" dy="13">amino acid transport</tspan></text></g>
<g id="n_naat" class="n"><rect x="5120" y="811" width="89" height="37"/><text x="5164.5" y="827.5">neutral amino<tspan x="5164.5" dy="13">acid transport</tspan></text></g>
<g id="n_plld" class="n"><rect x="4595" y="919" width="109" height="36"/><text x="4649.5" y="935">posterior lateral<tspan x="4649.5" dy="13">line development</tspan></text></g>
<g id="n_leu" class="n"><rect x="5031" y="915" width="109" height="44"/><text x="5085.5" y="930.5">leucine transport</text><rect class="h" x="5031" y="937" width="54.5" height="22"/><rect class="h" x="5085.5" y="937" width="54.5" height="22"/><text x="5058.25" y="952.5">Human</text><text x="5112.75" y="952.5">LLGL2</text></g>
<g id="n_pllnd" class="n"><rect x="4668" y="1001" width="100" height="70"/><text x="4718" y="1017">posterior lateral<tspan x="4718" dy="13">line neuromast</tspan><tspan x="4718" dy="13">development</tspan></text><rect class="z" x="4668" y="1050" width="50" height="21"/><rect class="z" x="4718" y="1050" width="50" height="21"/><text x="4693" y="1065">Zfish</text><text x="4743" y="1065">llgl2</text></g>
</svg>
